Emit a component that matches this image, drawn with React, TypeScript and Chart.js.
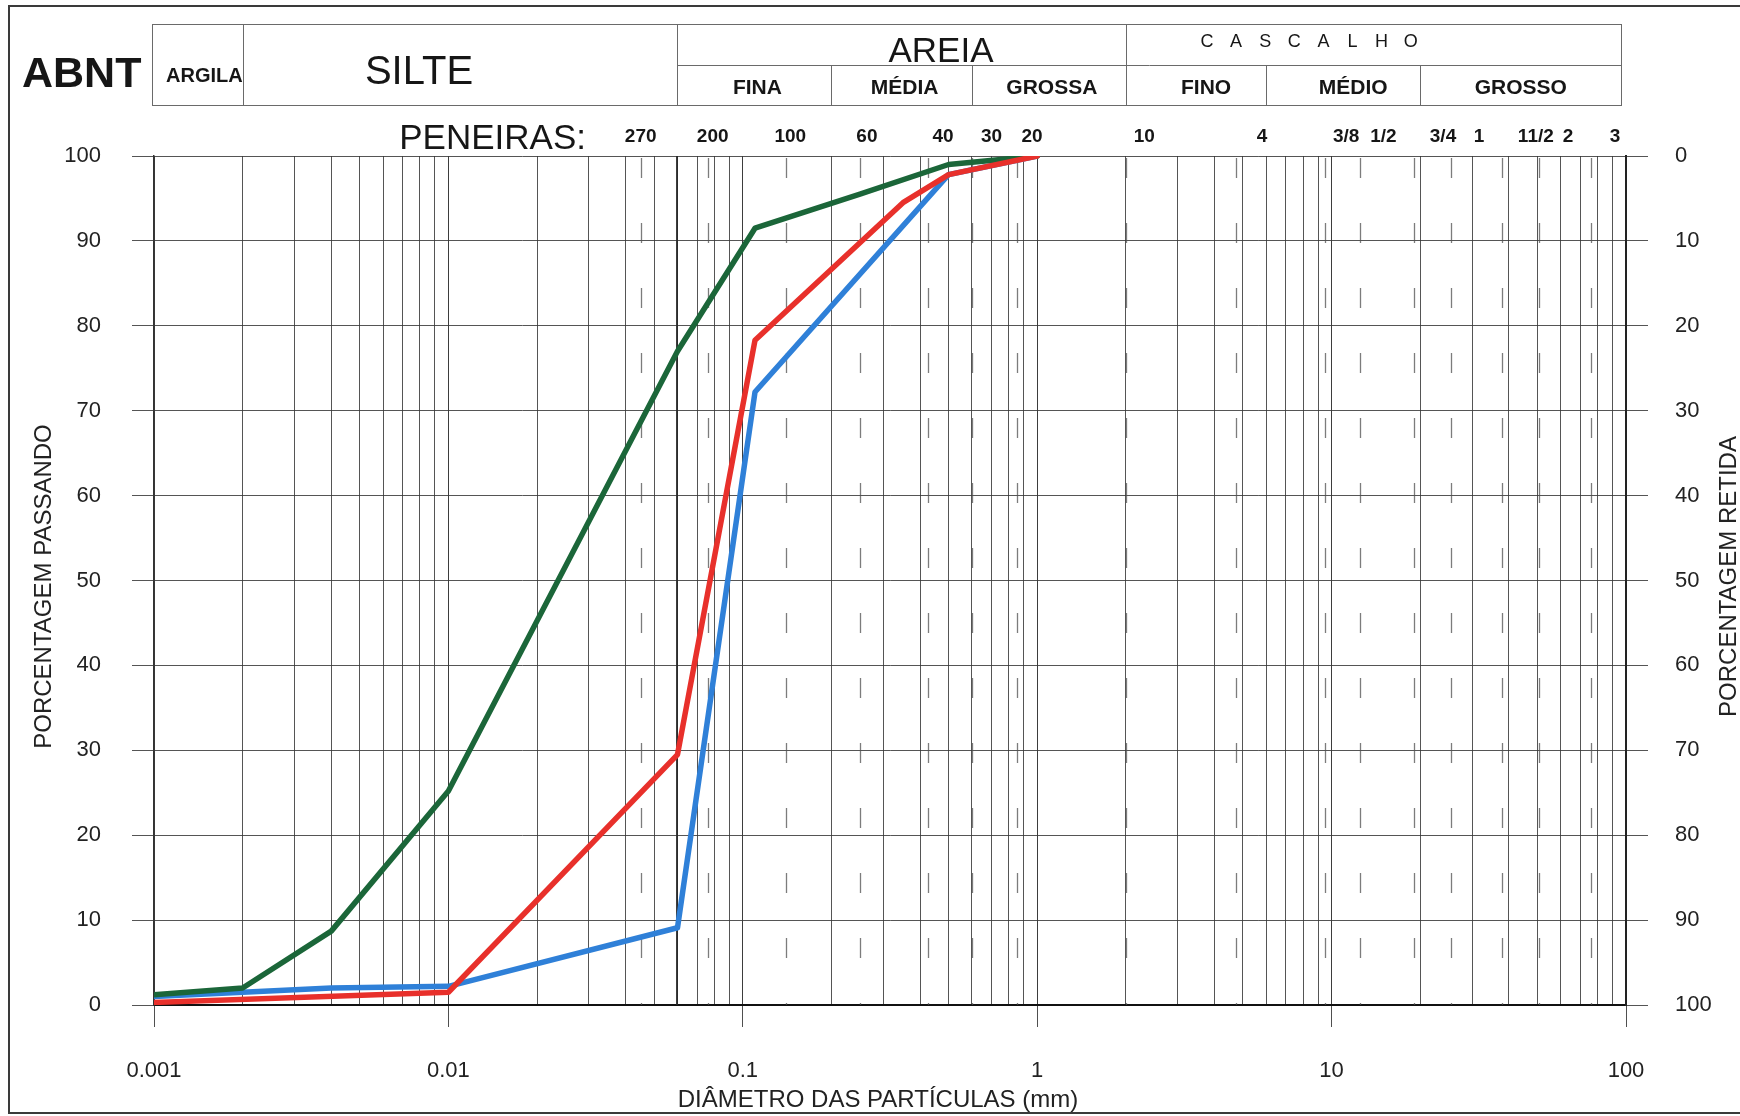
import React, { useEffect, useRef } from 'react';
import { Chart, registerables } from 'chart.js';

Chart.register(...registerables);

// ---- data (particle diameter in mm, percentage passing) ----
const diamGreen = [0.001, 0.002, 0.004, 0.01, 0.06, 0.11, 0.25, 0.5, 1];
const passGreen = [1.2, 2.0, 8.7, 25.2, 77, 91.5, 95.5, 99, 100];
const diamRed = [0.001, 0.01, 0.06, 0.11, 0.35, 0.5, 1];
const passRed = [0.3, 1.5, 29.5, 78.3, 94.5, 97.8, 100];
const diamBlue = [0.001, 0.004, 0.01, 0.06, 0.11, 0.5, 1];
const passBlue = [1.0, 2.0, 2.2, 9.1, 72.2, 97.8, 100];

// ---- axis / tick info ----
const xMin = 0.001;
const xMax = 100;
const xMajorLabels = ['0.001', '0.01', '0.1', '1', '10', '100'];
const yMin = 0;
const yMax = 100;
const yStep = 10;

// ---- sieves (PENEIRAS) ----
const sieveNames = ['270', '200', '100', '60', '40', '30', '20', '10', '4', '3/8', '1/2', '3/4', '1', '11/2', '2', '3'];
const sieveMm = [0.045, 0.076, 0.14, 0.25, 0.426, 0.6, 0.853, 2.0, 4.75, 9.5, 12.5, 19, 25.4, 38, 50.8, 76];
const sieveLabelMm = [0.045, 0.079, 0.145, 0.264, 0.479, 0.70, 0.96, 2.31, 5.8, 11.2, 15.0, 23.9, 31.7, 49.4, 63.5, 91.8];

// ---- ABNT soil classes ----
const clayLimit = 0.002;
const siltLimit = 0.06;
const sandNames = ['FINA', 'MÉDIA', 'GROSSA'];
const sandBounds = [0.06, 0.2, 0.6, 2];
const gravelNames = ['FINO', 'MÉDIO', 'GROSSO'];
const gravelBounds = [2, 6, 20];

const FONT = "'Liberation Sans', Arial, Helvetica, sans-serif";
const GRID = 'rgba(55,55,55,0.85)';

function buildLogGrid(): number[] {
  const out: number[] = [];
  for (let e = -3; e <= 1; e++) {
    for (let m = 1; m <= 9; m++) {
      out.push(parseFloat((m * Math.pow(10, e)).toPrecision(6)));
    }
  }
  out.push(100);
  return out;
}
const gridValues = buildLogGrid();
const isMajor = (v: number) => {
  const l = Math.log10(v);
  return Math.abs(l - Math.round(l)) < 1e-9;
};

function txt(ctx: CanvasRenderingContext2D, s: string, x: number, y: number, font: string, align: CanvasTextAlign = 'center') {
  ctx.font = font;
  ctx.textAlign = align;
  ctx.textBaseline = 'alphabetic';
  ctx.fillText(s, x, y);
}

const decor = {
  id: 'decor',
  beforeDraw(chart: any) {
    const { ctx, width, height } = chart;
    ctx.save();
    ctx.fillStyle = '#ffffff';
    ctx.fillRect(0, 0, width, height);
    ctx.restore();
  },
  beforeDatasetsDraw(chart: any) {
    const { ctx, chartArea: a, scales } = chart;
    const xs = scales.x;
    ctx.save();
    ctx.strokeStyle = 'rgba(80,80,80,0.75)';
    ctx.lineWidth = 1.3;
    ctx.setLineDash([20, 45]);
    sieveMm.forEach((d) => {
      const x = Math.round(xs.getPixelForValue(d)) + 0.5;
      ctx.beginPath();
      ctx.moveTo(x, a.top + 2);
      ctx.lineTo(x, a.bottom);
      ctx.stroke();
    });
    ctx.setLineDash([]);
    // silt / sand boundary emphasised
    ctx.strokeStyle = 'rgba(40,40,40,0.9)';
    ctx.lineWidth = 2;
    const xb = Math.round(xs.getPixelForValue(siltLimit));
    ctx.beginPath();
    ctx.moveTo(xb, a.top);
    ctx.lineTo(xb, a.bottom);
    ctx.stroke();
    ctx.restore();
  },
  afterDraw(chart: any) {
    const { ctx, chartArea: a, scales } = chart;
    const xs = scales.x;
    const px = (v: number) => Math.round(xs.getPixelForValue(v)) + 0.5;
    ctx.save();

    // outer frame (top, left, bottom)
    ctx.strokeStyle = '#3a3a3a';
    ctx.lineWidth = 2;
    ctx.beginPath();
    ctx.moveTo(1740, 6);
    ctx.lineTo(9, 6);
    ctx.lineTo(9, 1113);
    ctx.lineTo(1740, 1113);
    ctx.stroke();

    // header table
    const hL = 152.5, hR = 1621.5, hT = 24.5, hM = 65.5, hB = 105.5;
    ctx.strokeStyle = '#6a6a6a';
    ctx.lineWidth = 1;
    ctx.strokeRect(hL, hT, hR - hL, hB - hT);
    ctx.beginPath();
    ctx.moveTo(px(siltLimit), hM);
    ctx.lineTo(hR, hM);
    [clayLimit, siltLimit, sandBounds[3]].forEach((v) => {
      ctx.moveTo(px(v), hT);
      ctx.lineTo(px(v), hB);
    });
    [sandBounds[1], sandBounds[2], gravelBounds[1], gravelBounds[2]].forEach((v) => {
      ctx.moveTo(px(v), hM);
      ctx.lineTo(px(v), hB);
    });
    ctx.stroke();

    ctx.fillStyle = '#161616';
    txt(ctx, 'ABNT', 22, 87, `bold 43px ${FONT}`, 'left');
    txt(ctx, 'ARGILA', 166, 82, `bold 20px ${FONT}`, 'left');
    txt(ctx, 'SILTE', 419, 84, `40px ${FONT}`);
    txt(ctx, 'AREIA', 941, 62, `35px ${FONT}`);
    const casc = 'CASCALHO'.split('');
    casc.forEach((c, i) => txt(ctx, c, 1207 + i * 29.1, 47, `18px ${FONT}`));
    for (let i = 0; i < sandNames.length; i++) {
      const cx = (xs.getPixelForValue(sandBounds[i]) + xs.getPixelForValue(sandBounds[i + 1])) / 2;
      txt(ctx, sandNames[i], cx + 3, 94, `bold 21px ${FONT}`);
    }
    for (let i = 0; i < gravelNames.length; i++) {
      const right = i + 1 < gravelBounds.length ? xs.getPixelForValue(gravelBounds[i + 1]) : hR;
      const cx = (xs.getPixelForValue(gravelBounds[i]) + right) / 2;
      txt(ctx, gravelNames[i], cx + (i < 2 ? 10 : 0), 94, `bold 21px ${FONT}`);
    }

    // sieves
    txt(ctx, 'PENEIRAS:', 586, 149, `35px ${FONT}`, 'right');
    sieveNames.forEach((s, i) => {
      txt(ctx, s, xs.getPixelForValue(sieveLabelMm[i]), 142, `bold 19px ${FONT}`);
    });

    // axis titles
    ctx.fillStyle = '#222';
    ctx.save();
    ctx.translate(51, (a.top + a.bottom) / 2 + 6);
    ctx.rotate(-Math.PI / 2);
    txt(ctx, 'PORCENTAGEM PASSANDO', 0, 0, `24px ${FONT}`);
    ctx.restore();
    ctx.save();
    ctx.translate(1736, (a.top + a.bottom) / 2 - 4);
    ctx.rotate(-Math.PI / 2);
    txt(ctx, 'PORCENTAGEM RETIDA', 0, 0, `24px ${FONT}`);
    ctx.restore();
    txt(ctx, 'DIÂMETRO DAS PARTÍCULAS (mm)', 878, 1107, `24px ${FONT}`);

    ctx.restore();
  },
};

export default function App() {
  const ref = useRef<HTMLCanvasElement | null>(null);

  useEffect(() => {
    if (!ref.current) return;
    const mk = (xs: number[], ys: number[]) => xs.map((x, i) => ({ x, y: ys[i] }));
    const chart = new Chart(ref.current, {
      type: 'line',
      data: {
        datasets: [
          { label: 'Amostra 3', data: mk(diamRed, passRed), borderColor: '#e8302b', borderWidth: 5.5, pointRadius: 0, tension: 0, fill: false, order: 1 },
          { label: 'Amostra 1', data: mk(diamGreen, passGreen), borderColor: '#1b6639', borderWidth: 5.5, pointRadius: 0, tension: 0, fill: false, order: 2 },
          { label: 'Amostra 2', data: mk(diamBlue, passBlue), borderColor: '#2f80d8', borderWidth: 5.5, pointRadius: 0, tension: 0, fill: false, order: 3 },
        ],
      },
      options: {
        responsive: false,
        animation: false,
        devicePixelRatio: 1,
        layout: { padding: { top: 156, left: 0, right: 0, bottom: 0 } },
        plugins: { legend: { display: false }, tooltip: { enabled: false }, title: { display: false } },
        elements: { line: { borderJoinStyle: 'round', borderCapStyle: 'round' } },
        scales: {
          x: {
            type: 'logarithmic',
            min: xMin,
            max: xMax,
            afterBuildTicks: (s: any) => {
              s.ticks = gridValues.map((v) => ({ value: v, major: isMajor(v) }));
            },
            afterFit: (s: any) => {
              s.height = 111;
            },
            ticks: {
              autoSkip: false,
              maxRotation: 0,
              minRotation: 0,
              padding: 31,
              color: '#222',
              font: { family: FONT, size: 22 },
              callback: (v: any) => {
                const n = Number(v);
                if (!isMajor(n)) return '';
                const idx = Math.round(Math.log10(n)) + 3;
                return xMajorLabels[idx] ?? '';
              },
            },
            grid: {
              color: (c: any) => (c.tick && isMajor(c.tick.value) ? 'rgba(40,40,40,0.9)' : GRID),
              lineWidth: 1,
              tickLength: 22,
              tickColor: (c: any) => (c.tick && isMajor(c.tick.value) ? 'rgba(60,60,60,0.9)' : 'rgba(0,0,0,0)'),
            },
            border: { display: true, color: '#111', width: 2 },
          },
          y: {
            type: 'linear',
            position: 'left',
            min: yMin,
            max: yMax,
            afterFit: (s: any) => {
              s.width = 154;
            },
            ticks: { stepSize: yStep, padding: 31, color: '#222', font: { family: FONT, size: 22 } },
            grid: { color: GRID, lineWidth: 1, tickLength: 22 },
            border: { display: true, color: '#333', width: 1.5 },
          },
          y2: {
            type: 'linear',
            position: 'right',
            min: yMin,
            max: yMax,
            reverse: true,
            afterFit: (s: any) => {
              s.width = 114;
            },
            ticks: { stepSize: yStep, padding: 27, color: '#222', font: { family: FONT, size: 22 } },
            grid: { drawOnChartArea: false, color: GRID, lineWidth: 1, tickLength: 22 },
            border: { display: true, color: '#222', width: 2 },
          },
        },
      },
      plugins: [decor],
    } as any);
    return () => chart.destroy();
  }, []);

  return (
    <div style={{ position: 'absolute', left: 0, top: 0, width: 1740, height: 1116, background: '#fff' }}>
      <canvas ref={ref} width={1740} height={1116} style={{ width: 1740, height: 1116, display: 'block' }} />
    </div>
  );
}
